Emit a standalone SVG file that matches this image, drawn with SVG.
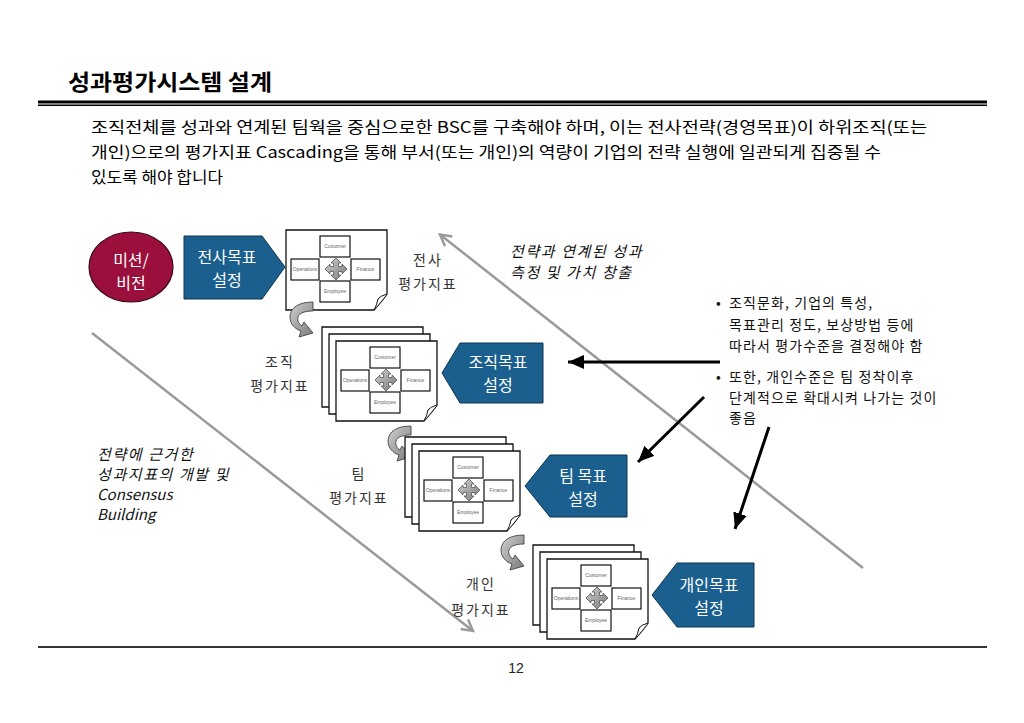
<svg xmlns="http://www.w3.org/2000/svg" xmlns:xlink="http://www.w3.org/1999/xlink" width="1024" height="723" viewBox="0 0 1024 723">
<style>
.ko{font-family:"Noto Sans CJK KR","Noto Sans",sans-serif}
.title{font-size:22px;font-weight:bold;fill:#000}
.body{font-size:16px;fill:#000}
.lbl{font-size:14px;fill:#333;letter-spacing:2px;text-anchor:middle}
.wt{font-size:16px;fill:#fff;text-anchor:middle}
.itl{font-size:15px;font-style:italic;fill:#111}
.itk2{letter-spacing:1.6px}
.bul{font-size:14px;fill:#111;letter-spacing:1.1px}
.blue{fill:#1a5f8e;stroke:#0e3550;stroke-width:1}
.pg{fill:#fff;stroke:#111;stroke-width:1.3}
.bx{fill:#fff;stroke:#111;stroke-width:1.2}
.bt{font-family:"Liberation Sans",Arial,sans-serif;font-size:5px;fill:#666;text-anchor:middle}
.gray{stroke:#9a9a9a;stroke-width:2.5;fill:none}
.blk{stroke:#000;stroke-width:3;fill:none}
</style>
<defs>
<linearGradient id="gg" x1="0" y1="0" x2="1" y2="1">
<stop offset="0" stop-color="#d0d0d0"/><stop offset="1" stop-color="#7a7a7a"/>
</linearGradient>
<marker id="ga" markerUnits="userSpaceOnUse" markerWidth="20" markerHeight="20" refX="12" refY="7" orient="auto">
<path d="M1,1 L12,7 L1,13" fill="none" stroke="#9a9a9a" stroke-width="2.5"/>
</marker>
<marker id="ba" markerUnits="userSpaceOnUse" markerWidth="20" markerHeight="16" refX="16" refY="7" orient="auto">
<path d="M0,0 L16,7 L0,14 Z" fill="#000"/>
</marker>
<path id="sheet" class="pg" d="M0,0 H101 V64 Q96,71 88,80 H0 Z"/>
<g id="page">
<use href="#sheet"/>
<path d="M101,64 Q94,66 92,69 Q91,75 88,80" fill="#fff" stroke="#111" stroke-width="1"/>
<rect class="bx" x="34" y="6" width="30" height="21"/>
<text class="bt" x="49" y="18">Customer</text>
<rect class="bx" x="5" y="29" width="28" height="21"/>
<text class="bt" x="19" y="41">Operations</text>
<rect class="bx" x="65" y="29" width="29" height="21"/>
<text class="bt" x="79.5" y="41">Finance</text>
<rect class="bx" x="34" y="51" width="30" height="21"/>
<text class="bt" x="49" y="63">Employee</text>
<path transform="translate(50,39)" d="M0,-11 L5,-6 L2.5,-6 L2.5,-2.5 L6,-2.5 L6,-5 L11,0 L6,5 L6,2.5 L2.5,2.5 L2.5,6 L5,6 L0,11 L-5,6 L-2.5,6 L-2.5,2.5 L-6,2.5 L-6,5 L-11,0 L-6,-5 L-6,-2.5 L-2.5,-2.5 L-2.5,-6 L-5,-6 Z" fill="url(#gg)" stroke="#555" stroke-width="0.8"/>
</g>
<path id="curl" d="M25,0 C12,0 2,5 2,15 C2,22 7,27 13,29 L11,35 L25,31 L16,20 L14,24 C11,22 9,19 10,15 C11,11 17,9 25,9 Z" fill="url(#gg)" stroke="#444" stroke-width="0.9"/>
</defs>
<rect width="1024" height="723" fill="#fff"/>

<g id="header">
<text class="ko title" x="68" y="90" textLength="204" lengthAdjust="spacingAndGlyphs">성과평가시스템 설계</text>
<rect x="38" y="100.5" width="949" height="3" fill="#000"/>
<rect x="38" y="104.5" width="949" height="1.5" fill="#000"/>
<text class="ko body" x="91" y="133" textLength="836" lengthAdjust="spacingAndGlyphs">조직전체를 성과와 연계된 팀웍을 중심으로한 BSC를 구축해야 하며, 이는 전사전략(경영목표)이 하위조직(또는</text>
<text class="ko body" x="91" y="158" textLength="790" lengthAdjust="spacingAndGlyphs">개인)으로의 평가지표 Cascading을 통해 부서(또는 개인)의 역량이 기업의 전략 실행에 일관되게 집중될 수</text>
<text class="ko body" x="91" y="183" textLength="132" lengthAdjust="spacingAndGlyphs">있도록 해야 합니다</text>
</g>

<g id="connectors">
<line class="gray" x1="863" y1="568" x2="440" y2="234.5" marker-end="url(#ga)"/>
<line class="gray" x1="92" y1="333" x2="473" y2="631" marker-end="url(#ga)"/>
<line class="blk" x1="720" y1="362" x2="568" y2="362" marker-end="url(#ba)"/>
<line class="blk" x1="704" y1="397" x2="638" y2="462" marker-end="url(#ba)"/>
<line class="blk" x1="769" y1="427" x2="735" y2="529" marker-end="url(#ba)"/>
</g>

<g id="mission">
<ellipse cx="131" cy="267" rx="42" ry="35" fill="#9a0f3b" stroke="#3a0618" stroke-width="1.2"/>
<text class="ko wt" x="131" y="266">미션/</text>
<text class="ko wt" x="131" y="289">비전</text>
</g>

<g id="goal-company">
<polygon class="blue" points="184,236 262,236 285,267 262,299 184,299"/>
<text class="ko wt" x="227" y="263">전사목표</text>
<text class="ko wt" x="227" y="286">설정</text>
</g>

<g id="kpi-company">
<use href="#page" x="286" y="230"/>
<text class="ko lbl" x="428" y="265">전사</text>
<text class="ko lbl" x="428" y="289">평가지표</text>
</g>
<use id="curl-1" href="#curl" x="288" y="302"/>

<g id="kpi-org">
<use href="#sheet" x="322" y="327"/>
<use href="#sheet" x="329" y="334"/>
<use href="#page" x="336" y="341"/>
<text class="ko lbl" x="280" y="367">조직</text>
<text class="ko lbl" x="280" y="391">평가지표</text>
</g>
<g id="goal-org">
<polygon class="blue" points="543,343 460,343 442,373 460,403 543,403"/>
<text class="ko wt" x="498" y="368">조직목표</text>
<text class="ko wt" x="498" y="391">설정</text>
</g>
<use id="curl-2" href="#curl" x="386" y="426"/>

<g id="kpi-team">
<use href="#sheet" x="405" y="437"/>
<use href="#sheet" x="412" y="444"/>
<use href="#page" x="419" y="451"/>
<text class="ko lbl" x="359" y="479">팀</text>
<text class="ko lbl" x="359" y="503">평가지표</text>
</g>
<g id="goal-team">
<polygon class="blue" points="627,455 550,455 525,486 550,517 627,517"/>
<text class="ko wt" x="583" y="482">팀 목표</text>
<text class="ko wt" x="583" y="505">설정</text>
</g>
<use id="curl-3" href="#curl" x="499" y="535"/>

<g id="kpi-person">
<use href="#sheet" x="533" y="545"/>
<use href="#sheet" x="540" y="552"/>
<use href="#page" x="547" y="559"/>
<text class="ko lbl" x="481" y="589">개인</text>
<text class="ko lbl" x="481" y="615">평가지표</text>
</g>
<g id="goal-person">
<polygon class="blue" points="754,563 677,563 652,595 677,627 754,627"/>
<text class="ko wt" x="709" y="591">개인목표</text>
<text class="ko wt" x="709" y="614">설정</text>
</g>

<g id="note-top">
<text class="ko itl itk2" x="510" y="257">전략과 연계된 성과</text>
<text class="ko itl itk2" x="510" y="278">측정 및 가치 창출</text>
</g>

<g id="note-left">
<text class="ko itl itk2" x="97" y="460">전략에 근거한</text>
<text class="ko itl itk2" x="97" y="480">성과지표의 개발 및</text>
<text class="ko itl" x="97" y="500">Consensus</text>
<text class="ko itl" x="97" y="520">Building</text>
</g>

<g id="note-right">
<text class="ko bul" x="716" y="308">•</text>
<text class="ko bul" x="729" y="308">조직문화, 기업의 특성,</text>
<text class="ko bul" x="729" y="330">목표관리 정도, 보상방법 등에</text>
<text class="ko bul" x="729" y="351">따라서 평가수준을 결정해야 함</text>
<text class="ko bul" x="716" y="382">•</text>
<text class="ko bul" x="729" y="382">또한, 개인수준은 팀 정착이후</text>
<text class="ko bul" x="729" y="403">단계적으로 확대시켜 나가는 것이</text>
<text class="ko bul" x="729" y="423">좋음</text>
</g>

<g id="footer">
<rect x="38" y="646" width="949" height="2" fill="#333"/>
<text x="516" y="673" font-family="Liberation Sans, Arial, sans-serif" font-size="14" fill="#222" text-anchor="middle">12</text>
</g>
</svg>
